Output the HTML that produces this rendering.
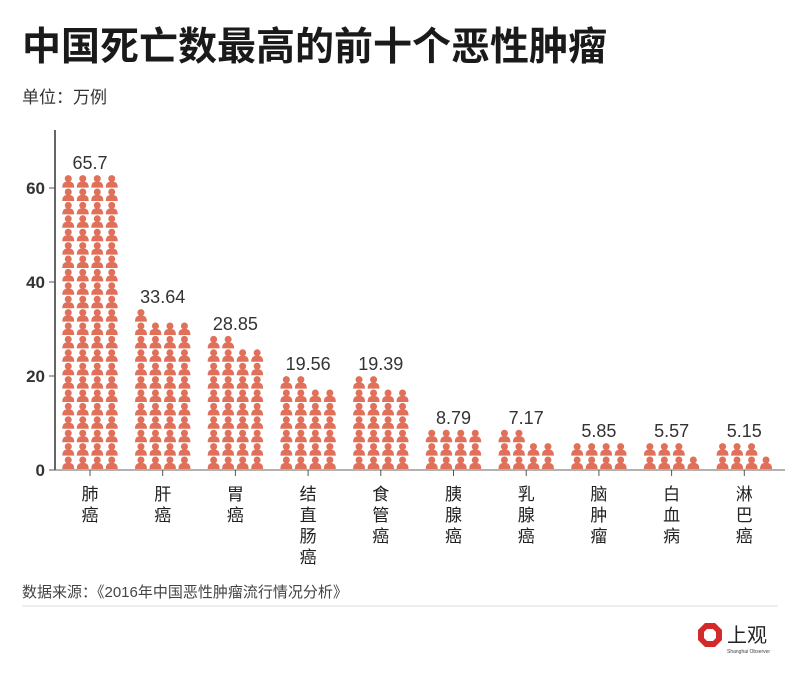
<!DOCTYPE html>
<html><head><meta charset="utf-8">
<style>
body{margin:0;background:#fff;width:800px;height:680px;overflow:hidden;font-family:"Liberation Sans","Noto Sans CJK SC",sans-serif;}
svg text{font-family:"Liberation Sans","Noto Sans CJK SC",sans-serif;}
</style></head><body>
<svg id="chart" width="800" height="680">
<text x="22" y="60" font-size="39" font-weight="bold" fill="#1a1a1a">中国死亡数最高的前十个恶性肿瘤</text>
<text x="22" y="103" font-size="17" fill="#333">单位：万例</text>
<g id="plot"></g>
<text x="22" y="597" font-size="15" fill="#444">数据来源：《2016年中国恶性肿瘤流行情况分析》</text>
<line x1="22" y1="606" x2="778" y2="606" stroke="#ddd"/>
<g>
<polygon points="705,623 715,623 722,630 722,640 715,647 705,647 698,640 698,630" fill="#d42a2a"/>
<polygon points="707,629 713,629 716,632 716,638 713,641 707,641 704,638 704,632" fill="#fff"/>
<text x="727" y="642" font-size="20" fill="#222">上观</text>
<text x="727" y="653" font-size="5" fill="#444">Shanghai Observer</text>
</g>
</svg>
<script>
const categories=["肺癌","肝癌","胃癌","结直肠癌","食管癌","胰腺癌","乳腺癌","脑肿瘤","白血病","淋巴癌"];
const values=[65.7,33.64,28.85,19.56,19.39,8.79,7.17,5.85,5.57,5.15];
const valueLabels=["65.7","33.64","28.85","19.56","19.39","8.79","7.17","5.85","5.57","5.15"];
const yTicks=[0,20,40,60];
const unitPerIcon=0.75;
const NS="http://www.w3.org/2000/svg";
const g=document.getElementById('plot');
const x0=55,y0=470,pxPer=4.7,band=72.7,firstC=90;
const y=v=>y0-v*pxPer;
const xc=i=>firstC+i*band;
function el(t,a){const e=document.createElementNS(NS,t);for(const k in a)e.setAttribute(k,a[k]);g.appendChild(e);return e;}
const ax=el('line',{x1:x0,y1:130,x2:x0,y2:y0,stroke:'#666','stroke-width':2});


const bx=el('line',{x1:x0,y1:y0,x2:785,y2:y0,stroke:'#666','stroke-width':1});


yTicks.forEach(t=>{
 const tl=el('line',{x1:x0-6,y1:y(t),x2:x0,y2:y(t),stroke:'#555'});
 
 
 const tx=el('text',{x:x0-10,y:y(t)+6,'font-size':17,'font-weight':'bold','text-anchor':'end',fill:'#333'});
 tx.textContent=t;
 
 
});
const rowH=13.4, colW=14.5;
categories.forEach((c,i)=>{
 const n=Math.round(values[i]/unitPerIcon);
 const grp=el('g',{});
 
 
 for(let k=0;k<n;k++){
  const col=k%4,row=Math.floor(k/4);
  const cx=xc(i)-1.5*colW+col*colW, by=y0-1-row*rowH;
  const p=document.createElementNS(NS,'path');
  p.setAttribute('d',`M${cx-6},${by} Q${cx-6},${by-5.5} ${cx-2},${by-6} L${cx+2},${by-6} Q${cx+6},${by-5.5} ${cx+6},${by} Z`);
  p.setAttribute('fill','#e0705a');
  grp.appendChild(p);
  const h=document.createElementNS(NS,'circle');
  h.setAttribute('cx',cx);h.setAttribute('cy',by-9);h.setAttribute('r',3.5);h.setAttribute('fill','#e0705a');
  grp.appendChild(h);
 }
 const topY=y0-Math.ceil(n/4)*rowH;
 const vl=el('text',{x:xc(i),y:topY-6,'font-size':18,'text-anchor':'middle',fill:'#333'});
 vl.textContent=valueLabels[i];
 
 
 const tk=el('line',{x1:xc(i),y1:y0,x2:xc(i),y2:y0+6,stroke:'#555'});
 
 
 [...c].forEach((ch,j)=>{
  const t=el('text',{x:xc(i),y:500+j*21,'font-size':17,'text-anchor':'middle',fill:'#222'});
  t.textContent=ch;
  
  
 });
});
</script>
</body></html>
